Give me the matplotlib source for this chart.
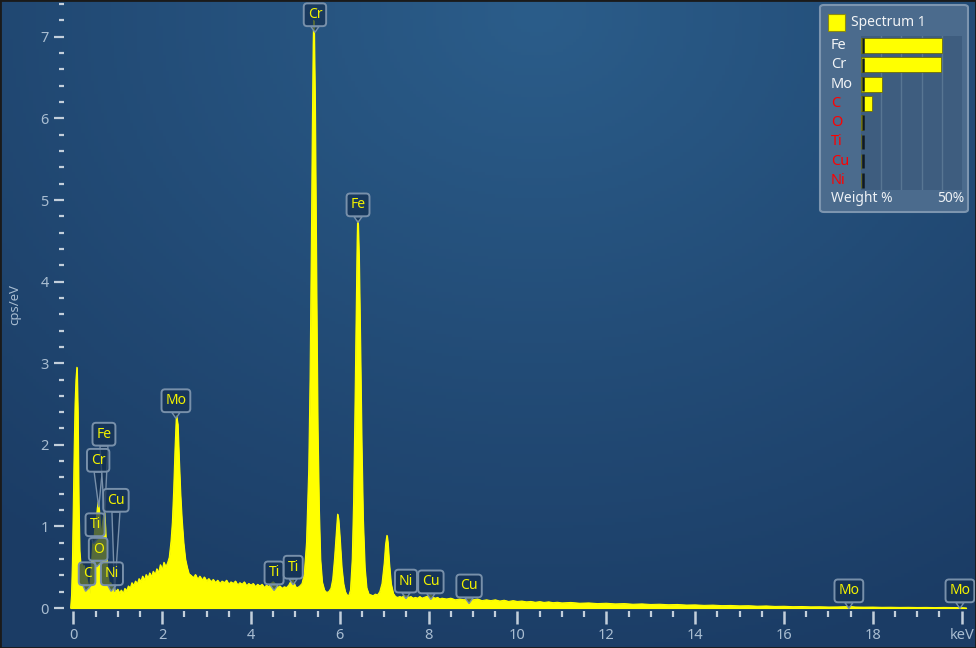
import numpy as np
import matplotlib
matplotlib.use("Agg")
import matplotlib.pyplot as plt
from matplotlib.patches import FancyBboxPatch, Rectangle, Polygon
from matplotlib.ticker import MultipleLocator, FuncFormatter

plt.rcParams['font.family'] = ['Noto Sans', 'DejaVu Sans']

# ---------------- data ----------------
energy_kev = [
    -0.06, -0.04, -0.02, 0.00, 0.02, 0.04, 0.06, 0.08, 0.10, 0.12, 0.14, 0.16, 0.18, 0.20,
    0.22, 0.24, 0.26, 0.28, 0.30, 0.32, 0.34, 0.36, 0.38, 0.40, 0.42, 0.44, 0.46, 0.48,
    0.50, 0.52, 0.54, 0.56, 0.58, 0.60, 0.62, 0.64, 0.66, 0.68, 0.70, 0.72, 0.74, 0.76,
    0.78, 0.80, 0.82, 0.84, 0.86, 0.88, 0.90, 0.92, 0.94, 0.96, 0.98,
    1.00, 1.04, 1.08, 1.12, 1.16, 1.20, 1.24, 1.28, 1.32, 1.36, 1.40, 1.44, 1.48, 1.52,
    1.56, 1.60, 1.64, 1.68, 1.72, 1.76, 1.80, 1.84, 1.88, 1.92, 1.96, 2.00, 2.04,
    2.08, 2.12, 2.16, 2.20, 2.23, 2.26, 2.29, 2.32, 2.35, 2.38, 2.41, 2.44, 2.48, 2.52,
    2.56, 2.60, 2.65, 2.70, 2.75, 2.80, 2.85, 2.90, 2.95, 3.00, 3.05, 3.10, 3.15, 3.20,
    3.25, 3.30, 3.35, 3.40, 3.45, 3.50, 3.55, 3.60, 3.65, 3.70, 3.75, 3.80, 3.85, 3.90,
    3.95, 4.00, 4.05, 4.10, 4.15, 4.20, 4.25, 4.30, 4.35, 4.40, 4.45, 4.50, 4.55, 4.60,
    4.65, 4.70, 4.75, 4.80, 4.85, 4.90, 4.93, 4.96, 5.00, 5.05, 5.10, 5.15, 5.20, 5.25,
    5.30, 5.33, 5.36, 5.38, 5.40, 5.41, 5.42, 5.44, 5.46, 5.48, 5.50, 5.53, 5.56, 5.60,
    5.65, 5.70, 5.75, 5.80, 5.84, 5.88, 5.92, 5.95, 5.97, 6.00, 6.04, 6.08, 6.12, 6.16,
    6.20, 6.24, 6.28, 6.31, 6.34, 6.37, 6.39, 6.40, 6.41, 6.43, 6.46, 6.49, 6.52, 6.56,
    6.60, 6.65, 6.70, 6.75, 6.80, 6.85, 6.90, 6.95, 7.00, 7.03, 7.06, 7.08, 7.11, 7.15,
    7.20, 7.25, 7.30, 7.35, 7.40, 7.45, 7.50, 7.55, 7.60, 7.65, 7.70, 7.75, 7.80, 7.85,
    7.90, 7.95, 8.00, 8.05, 8.10, 8.15, 8.20, 8.25, 8.30, 8.40, 8.50, 8.60, 8.70, 8.80,
    8.90, 9.00, 9.10, 9.20, 9.30, 9.40, 9.50, 9.60, 9.70, 9.80, 9.90, 10.0, 10.1, 10.2,
    10.3, 10.4, 10.5, 10.6, 10.7, 10.8, 10.9, 11.0, 11.2, 11.4, 11.6, 11.8, 12.0, 12.2,
    12.4, 12.6, 12.8, 13.0, 13.2, 13.4, 13.6, 13.8, 14.0, 14.2, 14.4, 14.6, 14.8, 15.0,
    15.2, 15.4, 15.6, 15.8, 16.0, 16.2, 16.4, 16.6, 16.8, 17.0, 17.2, 17.4, 17.5, 17.6,
    17.8, 18.0, 18.2, 18.4, 18.6, 18.8, 19.0, 19.2, 19.4, 19.6, 19.8, 20.0, 20.1,
]
counts_cps_ev = [
    0.00, 0.15, 0.55, 1.25, 1.95, 2.50, 2.80, 2.95, 2.40, 1.30, 0.70, 0.56, 0.50, 0.54,
    0.45, 0.52, 0.41, 0.47, 0.36, 0.31, 0.22, 0.14, 0.30, 0.47, 0.63, 0.80, 0.78, 0.95,
    1.05, 1.10, 1.22, 1.30, 1.20, 1.02, 0.92, 0.96, 1.05, 1.12, 1.17, 0.98, 0.72, 0.50,
    0.38, 0.30, 0.26, 0.31, 0.22, 0.27, 0.20, 0.25, 0.15, 0.22, 0.19,
    0.23, 0.18, 0.22, 0.17, 0.24, 0.21, 0.27, 0.24, 0.31, 0.27, 0.33, 0.29, 0.36, 0.32,
    0.39, 0.34, 0.41, 0.36, 0.43, 0.38, 0.45, 0.40, 0.48, 0.43, 0.53, 0.46, 0.56,
    0.50, 0.55, 0.62, 0.82, 1.05, 1.45, 1.95, 2.36, 2.25, 1.80, 1.40, 1.10, 0.80, 0.60,
    0.50, 0.42, 0.40, 0.37, 0.41, 0.35, 0.39, 0.34, 0.38, 0.33, 0.36, 0.32, 0.35, 0.31,
    0.34, 0.30, 0.33, 0.31, 0.34, 0.29, 0.32, 0.30, 0.33, 0.28, 0.31, 0.29, 0.32, 0.27,
    0.30, 0.28, 0.30, 0.26, 0.29, 0.27, 0.29, 0.25, 0.28, 0.26, 0.30, 0.32, 0.29, 0.25,
    0.27, 0.24, 0.26, 0.25, 0.28, 0.33, 0.36, 0.32, 0.26, 0.25, 0.27, 0.30, 0.42, 0.80,
    1.70, 2.80, 4.50, 5.80, 6.90, 7.20, 7.05, 6.20, 4.80, 3.40, 2.20, 1.20, 0.60, 0.32,
    0.22, 0.19, 0.20, 0.24, 0.35, 0.60, 0.92, 1.15, 1.08, 0.85, 0.50, 0.30, 0.20, 0.16,
    0.15, 0.22, 0.60, 1.30, 2.40, 3.70, 4.50, 4.75, 4.70, 4.30, 3.20, 2.00, 1.10, 0.50,
    0.25, 0.17, 0.16, 0.15, 0.17, 0.16, 0.20, 0.30, 0.55, 0.78, 0.89, 0.80, 0.55, 0.30,
    0.18, 0.14, 0.13, 0.14, 0.13, 0.16, 0.15, 0.13, 0.14, 0.12, 0.13, 0.12, 0.14, 0.12,
    0.13, 0.14, 0.15, 0.16, 0.13, 0.12, 0.13, 0.11, 0.12, 0.11, 0.12, 0.10, 0.11, 0.10,
    0.12, 0.10, 0.11, 0.09, 0.10, 0.09, 0.10, 0.085, 0.095, 0.08, 0.09, 0.08, 0.085, 0.075,
    0.08, 0.07, 0.078, 0.068, 0.075, 0.065, 0.07, 0.062, 0.068, 0.058, 0.062, 0.054, 0.058, 0.05,
    0.054, 0.046, 0.05, 0.043, 0.046, 0.04, 0.043, 0.036, 0.038, 0.032, 0.035, 0.029, 0.031, 0.026,
    0.028, 0.022, 0.025, 0.019, 0.021, 0.016, 0.018, 0.014, 0.015, 0.012, 0.013, 0.016, 0.018, 0.012,
    0.010, 0.011, 0.008, 0.009, 0.007, 0.008, 0.006, 0.007, 0.005, 0.007, 0.005, 0.004, 0.0,
]

peak_names = ['C', 'O', 'Ti', 'Cr', 'Fe', 'Ni', 'Cu', 'Mo', 'Ti', 'Ti', 'Cr', 'Fe',
              'Ni', 'Cu', 'Cu', 'Mo', 'Mo']
peak_energy_kev = [0.277, 0.525, 0.452, 0.573, 0.705, 0.851, 0.930, 2.293, 4.51, 4.93,
                   5.415, 6.404, 7.478, 8.048, 8.905, 17.48, 19.61]

legend_elements = ['Fe', 'Cr', 'Mo', 'C', 'O', 'Ti', 'Cu', 'Ni']
weight_percent = [40.3, 39.6, 10.3, 5.6, 0.9, 0.2, 0.2, 0.2]
element_confirmed = [True, True, True, False, False, False, False, False]
x_tick_labels = ['0', '2', '4', '6', '8', '10', '12', '14', '16', '18', 'keV']

# ---------------- layout (label placement, pixels -> data) ----------------
label_center = [(0.31, 0.42), (0.56, 0.72), (0.49, 1.02), (0.56, 1.81), (0.69, 2.13),
                (0.87, 0.42), (0.96, 1.32), (2.31, 2.54), (4.52, 0.43), (4.95, 0.50),
                (5.44, 7.27), (6.41, 4.94), (7.49, 0.33), (8.05, 0.32), (8.91, 0.27),
                (17.46, 0.21), (19.96, 0.21)]
leader_label = [True, True, True, True, True, True, True, False, False, False,
                False, False, False, False, False, False, False]

W, H = 976, 648
fig = plt.figure(figsize=(W / 100, H / 100), dpi=100)

# background gradient
bg = fig.add_axes([0, 0, 1, 1], zorder=-10)
gx, gy = np.meshgrid(np.linspace(0, 1, 300), np.linspace(0, 1, 200))
d = np.sqrt(((gx - 0.55) / 0.85) ** 2 + ((gy - 0.02) / 1.05) ** 2)
d = np.clip(d, 0, 1)
c0 = np.array([0x2b, 0x5d, 0x8a]) / 255.0
c1 = np.array([0x1b, 0x3c, 0x65]) / 255.0
img = c0[None, None, :] * (1 - d[..., None]) + c1[None, None, :] * d[..., None]
bg.imshow(img, extent=[0, 1, 0, 1], aspect='auto', origin='upper')
bg.set_xlim(0, 1); bg.set_ylim(0, 1)
bg.axis('off')

# main axes
pxk = 44.42
x0px = 73.3
ypx = 81.6
ax_left, ax_right, ax_bottom_px = 64, 971, 611
ax = fig.add_axes([ax_left / W, (H - ax_bottom_px) / H, (ax_right - ax_left) / W, ax_bottom_px / H])
ax.set_facecolor('none')
ax.set_xlim((ax_left - x0px) / pxk, (ax_right - x0px) / pxk)
ax.set_ylim(-(ax_bottom_px - 608) / ypx, 608 / ypx)
for s in ax.spines.values():
    s.set_visible(False)

E = np.array(energy_kev)
C = np.array(counts_cps_ev)
ax.fill_between(E, 0, C, color='#ffff00', lw=0.8, edgecolor='#ffff00', zorder=2)
ax.plot(E, C, color='#ffff00', lw=0.8, zorder=2)

tick_col = '#c3cfdb'
lab_col = '#a9bdd1'
ax.xaxis.set_major_locator(MultipleLocator(2))
ax.yaxis.set_major_locator(MultipleLocator(1))
ax.xaxis.set_major_formatter(FuncFormatter(
    lambda v, p: x_tick_labels[int(round(v / 2))] if 0 <= round(v / 2) < len(x_tick_labels) else ''))
ax.yaxis.set_major_formatter(FuncFormatter(lambda v, p: '%d' % round(v)))
ax.tick_params(axis='x', which='major', length=9.5, width=1.8, color=tick_col,
               labelcolor=lab_col, labelsize=10.5, pad=3)
ax.tick_params(axis='x', which='minor', length=4.5, width=1.6, color=tick_col)
ax.tick_params(axis='y', which='major', length=7.5, width=1.6, color=tick_col,
               labelcolor=lab_col, labelsize=10.5, pad=3.5)
ax.tick_params(axis='y', which='minor', length=3.6, width=1.6, color=tick_col)
ax.set_xticks([v for v in np.arange(0, 20.01, 0.5) if v % 2 != 0], minor=True)
ax.set_yticks([v for v in np.arange(0, 7.41, 0.2) if abs(v - round(v)) > 0.01], minor=True)

fig.text(15 / W, 1 - 305 / H, 'cps/eV', rotation=90, ha='center', va='center',
         color=lab_col, fontsize=9.5)

# peak labels
box_fc = (0.08, 0.19, 0.32, 0.72)
box_ec = '#7890aa'
half_h = 0.145
for name, e, (lx, ly), lead in zip(peak_names, peak_energy_kev, label_center, leader_label):
    ybot = ly - half_h
    if lead:
        ty = float(np.interp(e, E, C))
        tx = e
        ty = min(ty, ybot - 0.07)
    else:
        tx = lx
        ty = ybot - 0.07
    tri = Polygon([(lx - 0.09, ybot), (lx + 0.09, ybot), (tx, ty)], closed=True,
                  fc=box_fc, ec=box_ec, lw=1.0, zorder=4)
    ax.add_patch(tri)
    ax.text(lx, ly, name, ha='center', va='center', color='#f2f200', fontsize=10,
            zorder=5, clip_on=False,
            bbox=dict(boxstyle='round,pad=0.28,rounding_size=0.25', fc=box_fc,
                      ec=box_ec, lw=1.4))

# legend panel
panel = FancyBboxPatch((820 / W, (H - 212) / H), 148 / W, 207 / H,
                       boxstyle='round,pad=0,rounding_size=0.004',
                       transform=fig.transFigure, fc='#4b6b8d', ec='#7d95af', lw=1.5,
                       zorder=10)
fig.patches.append(panel)
sq = Rectangle((828 / W, (H - 31) / H), 17 / W, 17 / H, transform=fig.transFigure,
               fc='#ffff00', ec='#8a8a10', lw=0.8, zorder=11)
fig.patches.append(sq)
fig.text(851 / W, 1 - 22 / H, 'Spectrum 1', ha='left', va='center', color='#f2f4f6',
         fontsize=10, zorder=12)

bx = fig.add_axes([861 / W, (H - 190) / H, 101 / W, 154 / H], zorder=12)
bx.set_facecolor('#3e5d7f')
for s in bx.spines.values():
    s.set_visible(False)
bx.set_xticks([]); bx.set_yticks([])
bx.set_xlim(0, 50)
bx.set_ylim(len(legend_elements) - 0.5, -0.5)
for gxv in [10, 20, 30, 40]:
    bx.axvline(gxv, color='#587693', lw=1.0, zorder=1)
yy = np.arange(len(legend_elements))
bx.barh(yy, weight_percent, height=0.78, color='#ffff00', edgecolor='#6a6a10',
        lw=0.6, zorder=2)
bx.vlines([0.9] * len(yy), yy - 0.38, yy + 0.38, color='#101820', lw=1.8, zorder=3)

for i, (el, ok) in enumerate(zip(legend_elements, element_confirmed)):
    ypix = 36 + (i + 0.5) * 19.25
    fig.text(831 / W, 1 - ypix / H, el, ha='left', va='center',
             color='#f2f4f6' if ok else '#ff0000', fontsize=10.5, zorder=12)
fig.text(831 / W, 1 - 199 / H, 'Weight %', ha='left', va='center', color='#eef2f6',
         fontsize=10, zorder=12)
fig.text(964 / W, 1 - 199 / H, '50%', ha='right', va='center', color='#eef2f6',
         fontsize=10, zorder=12)

# outer border
fig.patches.append(Rectangle((0, 0), 1, 1, transform=fig.transFigure, fill=False,
                             ec='#1a1a1a', lw=2, zorder=20))

fig.savefig('out.png', dpi=100)
